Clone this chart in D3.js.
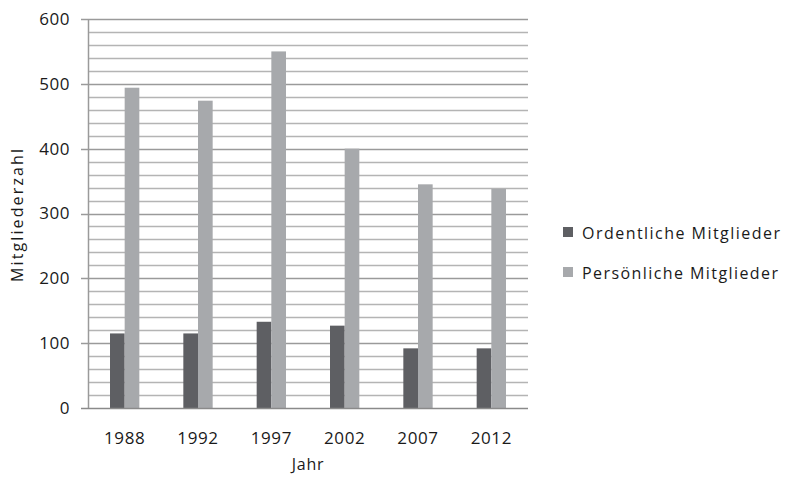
<!DOCTYPE html>
<html>
<head>
<meta charset="utf-8">
<script src="https://cdn.jsdelivr.net/npm/d3@7"></script>
<style>
  body { margin: 0; background: #fff; }
  text { font-family: "Open Sans", sans-serif; fill: #1a1a1a; }
</style>
</head>
<body>
<svg id="chart" width="787" height="477"></svg>
<script>
// Data
const years = ['1988', '1992', '1997', '2002', '2007', '2012'];
const ordentliche = [115, 115, 133, 127, 92, 92];
const persoenliche = [494, 474, 550, 400, 345, 338];
const seriesNames = ['Ordentliche Mitglieder', 'Persönliche Mitglieder'];
const seriesColors = ['#5e5f63', '#a7a9ac'];
const yTicks = [0, 100, 200, 300, 400, 500, 600];

const margin = { top: 19, right: 259, bottom: 69, left: 88 };
const width = 787 - margin.left - margin.right;
const height = 477 - margin.top - margin.bottom;

const svg = d3.select('#chart');
const g = svg.append('g').attr('transform', `translate(${margin.left},${margin.top})`);

const x = d3.scaleBand().domain(years).range([0, width]).paddingInner(0.6).paddingOuter(0.3);
const xSub = d3.scaleBand().domain([0, 1]).range([0, x.bandwidth()]);
const y = d3.scaleLinear().domain([0, 600]).range([height, 0]);

// Minor gridlines every 20
g.append('g')
  .selectAll('line')
  .data(d3.range(20, 600, 20).filter(v => v % 100 !== 0))
  .enter()
  .append('line')
  .attr('x1', 0)
  .attr('x2', width)
  .attr('y1', d => Math.round(y(d)) + 0.5)
  .attr('y2', d => Math.round(y(d)) + 0.5)
  .attr('stroke', '#b4b4b4')
  .attr('stroke-width', 1.5);

// Major gridlines
g.append('g')
  .selectAll('line')
  .data(yTicks.slice(1))
  .enter()
  .append('line')
  .attr('x1', -7)
  .attr('x2', width)
  .attr('y1', d => Math.round(y(d)) + 0.5)
  .attr('y2', d => Math.round(y(d)) + 0.5)
  .attr('stroke', '#9a9a9a')
  .attr('stroke-width', 1.5);

// Bars
const data = years.map((yr, i) => ({ year: yr, values: [ordentliche[i], persoenliche[i]] }));
const groups = g.selectAll('.grp')
  .data(data)
  .enter()
  .append('g')
  .attr('transform', d => `translate(${x(d.year)},0)`);

groups.selectAll('rect')
  .data(d => d.values.map((v, k) => ({ v, k })))
  .enter()
  .append('rect')
  .attr('x', d => xSub(d.k))
  .attr('width', xSub.bandwidth())
  .attr('y', d => y(d.v))
  .attr('height', d => height - y(d.v))
  .attr('fill', d => seriesColors[d.k]);

// Axes lines
g.append('line')
  .attr('x1', 0.5).attr('x2', 0.5)
  .attr('y1', 0).attr('y2', height)
  .attr('stroke', '#9a9a9a').attr('stroke-width', 1.5);
g.append('line')
  .attr('x1', -7).attr('x2', width)
  .attr('y1', height + 0.5).attr('y2', height + 0.5)
  .attr('stroke', '#8a8a8a').attr('stroke-width', 1.5);

// Y tick labels
g.append('g')
  .selectAll('text')
  .data(yTicks)
  .enter()
  .append('text')
  .attr('x', -18)
  .attr('y', d => y(d))
  .attr('dy', '0.35em')
  .attr('text-anchor', 'end')
  .style('font-size', '17px')
  .style('letter-spacing', '0.5px')
  .text(d => d);

// X tick labels
g.append('g')
  .selectAll('text')
  .data(years)
  .enter()
  .append('text')
  .attr('x', d => x(d) + x.bandwidth() / 2)
  .attr('y', height + 36)
  .attr('text-anchor', 'middle')
  .style('font-size', '17px')
  .style('letter-spacing', '0.6px')
  .text(d => d);

// Axis titles
svg.append('text')
  .attr('x', margin.left + width / 2)
  .attr('y', 470)
  .attr('text-anchor', 'middle')
  .style('font-size', '16px')
  .style('letter-spacing', '0.8px')
  .text('Jahr');

svg.append('text')
  .attr('transform', `translate(23,${margin.top + height / 2 + 2}) rotate(-90)`)
  .attr('text-anchor', 'middle')
  .attr('textLength', 133)
  .attr('lengthAdjust', 'spacing')
  .style('font-size', '16px')
  .text('Mitgliederzahl');

// Legend
const legend = svg.append('g').attr('transform', 'translate(563,233)');
const items = legend.selectAll('g')
  .data(seriesNames)
  .enter()
  .append('g')
  .attr('transform', (d, i) => `translate(0,${i * 40})`);
items.append('rect')
  .attr('x', 0).attr('y', -6)
  .attr('width', 10).attr('height', 10)
  .attr('fill', (d, i) => seriesColors[i]);
items.append('text')
  .attr('x', 19)
  .attr('y', 0)
  .attr('dy', '0.35em')
  .attr('textLength', (d, i) => (i === 0 ? 198 : 196))
  .attr('lengthAdjust', 'spacing')
  .style('font-size', '16px')
  .text(d => d);
</script>
</body>
</html>
